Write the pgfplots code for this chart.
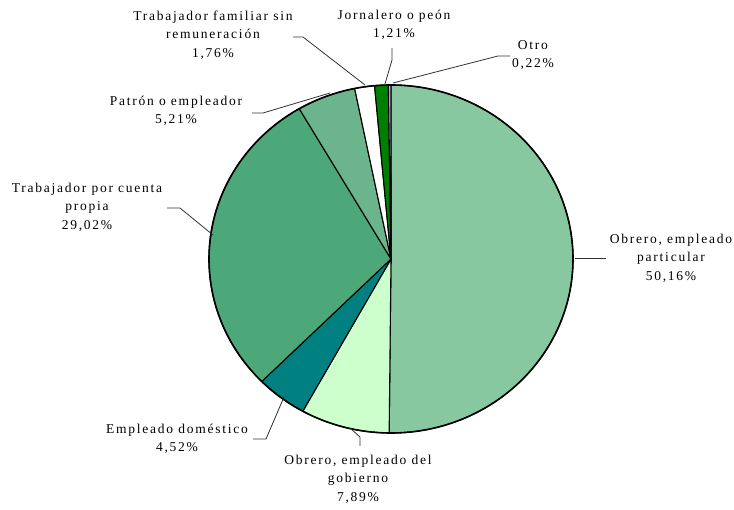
\documentclass[border=0pt]{standalone}
\usepackage{pgfplots}
\usepackage{pgfplotstable}
\pgfplotsset{compat=1.18}
\usepackage{fontspec}
\setmainfont{Liberation Serif}
\newfontfamily\lab[LetterSpace=13]{Liberation Serif}
\definecolor{cPart}{RGB}{136,200,160}
\definecolor{cGob}{RGB}{204,255,204}
\definecolor{cDom}{RGB}{0,128,128}
\definecolor{cProp}{RGB}{76,168,120}
\definecolor{cPat}{RGB}{108,180,140}
\definecolor{cFam}{RGB}{255,255,255}
\definecolor{cJor}{RGB}{0,128,0}
\definecolor{cOtro}{RGB}{190,190,235}
\definecolor{lead}{RGB}{50,50,50}

\pgfplotstableread{
value color
50.16 cPart
7.89 cGob
4.52 cDom
29.02 cProp
5.21 cPat
1.76 cFam
1.21 cJor
0.22 cOtro
}\piedata

\begin{document}
\begin{tikzpicture}
\begin{axis}[
  x=1pt, y=1pt,
  xmin=0, xmax=734, ymin=0, ymax=509,
  hide axis, clip=false,
]
\path (axis cs:0,0) rectangle (axis cs:734,509);
\pgfplotstablegetrowsof{\piedata}
\pgfmathtruncatemacro\N{\pgfplotsretval-1}
\gdef\cum{0}
\pgfplotsforeachungrouped \i in {0,...,\N}{
  \pgfplotstablegetelem{\i}{value}\of\piedata \let\v\pgfplotsretval
  \pgfplotstablegetelem{\i}{color}\of\piedata \let\c\pgfplotsretval
  \pgfmathsetmacro\aS{90-3.6*\cum}
  \pgfmathsetmacro\aE{90-3.6*(\cum+\v)}
  \pgfmathsetmacro\newcum{\cum+\v}
  \xdef\cum{\newcum}
  \edef\temp{\noexpand\filldraw[fill=\c, draw=black, line width=1.1pt, line join=round]
    (axis cs:391,250) -- ++(\aS:182pt and 174pt)
    arc[start angle=\aS, end angle=\aE, x radius=182pt, y radius=174pt] -- cycle;}
  \temp
}
\draw[line width=1.6pt] (axis cs:391,250) ellipse[x radius=182pt, y radius=174pt];

% leader lines (pixel coords, y = 509 - py)
\tikzset{ld/.style={lead, line width=0.8pt}}
\draw[ld] (axis cs:575,251) -- (axis cs:606,251);
\draw[ld] (axis cs:350,81) -- (axis cs:360,72) -- (axis cs:360,63);
\draw[ld] (axis cs:284,112) -- (axis cs:266,70) -- (axis cs:253,70);
\draw[ld] (axis cs:167,301) -- (axis cs:180,301) -- (axis cs:213,274);
\draw[ld] (axis cs:252,396) -- (axis cs:263,396) -- (axis cs:330,416);
\draw[ld] (axis cs:293,472) -- (axis cs:303,472) -- (axis cs:365,424);
\draw[ld] (axis cs:392,461) -- (axis cs:392,449) -- (axis cs:385,425);
\draw[ld] (axis cs:393,426) -- (axis cs:498,453) -- (axis cs:510,453);

% labels
\tikzset{lbl/.style={align=center, font=\lab\fontsize{13.5}{18.5}\selectfont, inner sep=0pt}}
\node[lbl] at (axis cs:671,251) {Obrero, empleado\\particular\\50,16\%};
\node[lbl] at (axis cs:358,30) {Obrero, empleado del\\gobierno\\7,89\%};
\node[lbl] at (axis cs:177,70) {Empleado doméstico\\4,52\%};
\node[lbl] at (axis cs:87,302) {Trabajador por cuenta\\propia\\29,02\%};
\node[lbl] at (axis cs:176,398) {Patrón o empleador\\5,21\%};
\node[lbl] at (axis cs:213,474) {Trabajador familiar sin\\remuneración\\1,76\%};
\node[lbl] at (axis cs:394,484) {Jornalero o peón\\1,21\%};
\node[lbl] at (axis cs:533,454) {Otro\\0,22\%};
\end{axis}
\end{tikzpicture}
\end{document}
